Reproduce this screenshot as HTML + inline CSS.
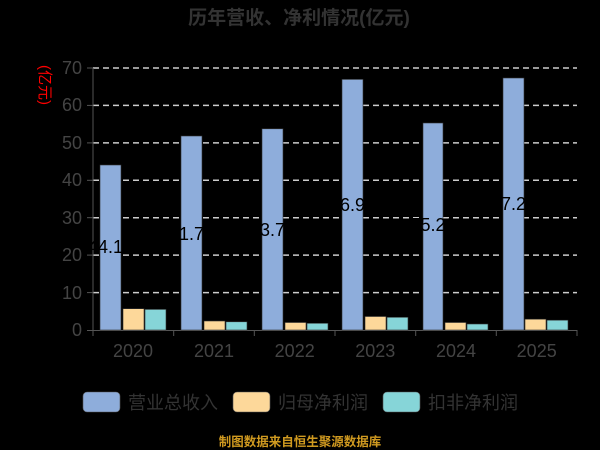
<!DOCTYPE html>
<html><head><meta charset="utf-8"><style>
html,body{margin:0;padding:0;background:#000;}
svg{display:block;}
text{font-family:"Liberation Sans","Noto Sans CJK SC",sans-serif;}
</style></head><body>
<svg width="600" height="450" viewBox="0 0 600 450" xmlns="http://www.w3.org/2000/svg">
<rect width="600" height="450" fill="#000"/>
<text x="299" y="24" text-anchor="middle" font-size="19" font-weight="bold" fill="#333">历年营收、净利情况(亿元)</text>
<text transform="translate(40,85) rotate(90)" text-anchor="middle" font-size="15" fill="#ff0000">(亿元)</text>
<g stroke="#ccc" stroke-width="1.5" stroke-dasharray="6,4">
<line x1="93" y1="68" x2="577" y2="68"/><line x1="93" y1="105.4" x2="577" y2="105.4"/>
<line x1="93" y1="142.9" x2="577" y2="142.9"/><line x1="93" y1="180.3" x2="577" y2="180.3"/>
<line x1="93" y1="217.7" x2="577" y2="217.7"/><line x1="93" y1="255.1" x2="577" y2="255.1"/>
<line x1="93" y1="292.6" x2="577" y2="292.6"/>
</g>
<g font-size="18" fill="#444" text-anchor="end">
<text x="82" y="74">70</text><text x="82" y="111">60</text><text x="82" y="149">50</text>
<text x="82" y="186">40</text><text x="82" y="224">30</text><text x="82" y="261">20</text>
<text x="82" y="299">10</text><text x="82" y="336">0</text>
</g>
<g stroke="#555" stroke-width="1">
<line x1="93" y1="68" x2="93" y2="336"/><line x1="87" y1="330.5" x2="577" y2="330.5"/>
<line x1="87" y1="68" x2="93" y2="68"/><line x1="87" y1="105.4" x2="93" y2="105.4"/><line x1="87" y1="142.9" x2="93" y2="142.9"/><line x1="87" y1="180.3" x2="93" y2="180.3"/><line x1="87" y1="217.7" x2="93" y2="217.7"/><line x1="87" y1="255.1" x2="93" y2="255.1"/><line x1="87" y1="292.6" x2="93" y2="292.6"/>
<line x1="173.7" y1="330" x2="173.7" y2="336"/><line x1="254.3" y1="330" x2="254.3" y2="336"/><line x1="335" y1="330" x2="335" y2="336"/><line x1="415.7" y1="330" x2="415.7" y2="336"/><line x1="496.3" y1="330" x2="496.3" y2="336"/><line x1="577" y1="330" x2="577" y2="336"/>
</g>
<g font-size="18" fill="#444" text-anchor="middle">
<text x="133" y="357">2020</text><text x="214" y="357">2021</text><text x="294.7" y="357">2022</text>
<text x="375.3" y="357">2023</text><text x="456" y="357">2024</text><text x="536.7" y="357">2025</text>
</g>
<g stroke="#333" stroke-width="0.6">
<rect x="100" y="165" width="21" height="165" fill="#8eaddb"/>
<rect x="123" y="308.7" width="21" height="21.3" fill="#fdd89a"/>
<rect x="145" y="309.4" width="21" height="20.6" fill="#86d5d8"/>
<rect x="181" y="136" width="21" height="194" fill="#8eaddb"/>
<rect x="204" y="321" width="21" height="9" fill="#fdd89a"/>
<rect x="226" y="321.8" width="21" height="8.2" fill="#86d5d8"/>
<rect x="262" y="128.8" width="21" height="201.2" fill="#8eaddb"/>
<rect x="285" y="322.5" width="21" height="7.5" fill="#fdd89a"/>
<rect x="307" y="323.3" width="21" height="6.7" fill="#86d5d8"/>
<rect x="342" y="79.4" width="21" height="250.6" fill="#8eaddb"/>
<rect x="365" y="316.5" width="21" height="13.5" fill="#fdd89a"/>
<rect x="387" y="317.3" width="21" height="12.7" fill="#86d5d8"/>
<rect x="423" y="123" width="20" height="207" fill="#8eaddb"/>
<rect x="445" y="322.5" width="21" height="7.5" fill="#fdd89a"/>
<rect x="467" y="324" width="21" height="6" fill="#86d5d8"/>
<rect x="503" y="78" width="21" height="252" fill="#8eaddb"/>
<rect x="525" y="319.2" width="21" height="10.8" fill="#fdd89a"/>
<rect x="547" y="320.2" width="21" height="9.8" fill="#86d5d8"/>
</g>
<g font-size="18" fill="#000" text-anchor="middle">
<text x="110.5" y="253">44.10</text><text x="191.5" y="240">51.71</text><text x="272.5" y="236">53.75</text>
<text x="352.5" y="211">66.94</text><text x="433" y="231">55.29</text><text x="513.5" y="210">67.21</text>
</g>
<rect x="83" y="392" width="37" height="20" rx="4" fill="#8eaddb" stroke="#555" stroke-width="0.6"/>
<rect x="233" y="392" width="37" height="20" rx="4" fill="#fdd89a" stroke="#555" stroke-width="0.6"/>
<rect x="383" y="392" width="37" height="20" rx="4" fill="#86d5d8" stroke="#555" stroke-width="0.6"/>
<g font-size="18" fill="#333">
<text x="128" y="409">营业总收入</text><text x="278" y="409">归母净利润</text><text x="428" y="409">扣非净利润</text>
</g>
<text x="300" y="446" text-anchor="middle" font-size="12.5" font-weight="bold" fill="#d09a20">制图数据来自恒生聚源数据库</text>
</svg>
</body></html>
